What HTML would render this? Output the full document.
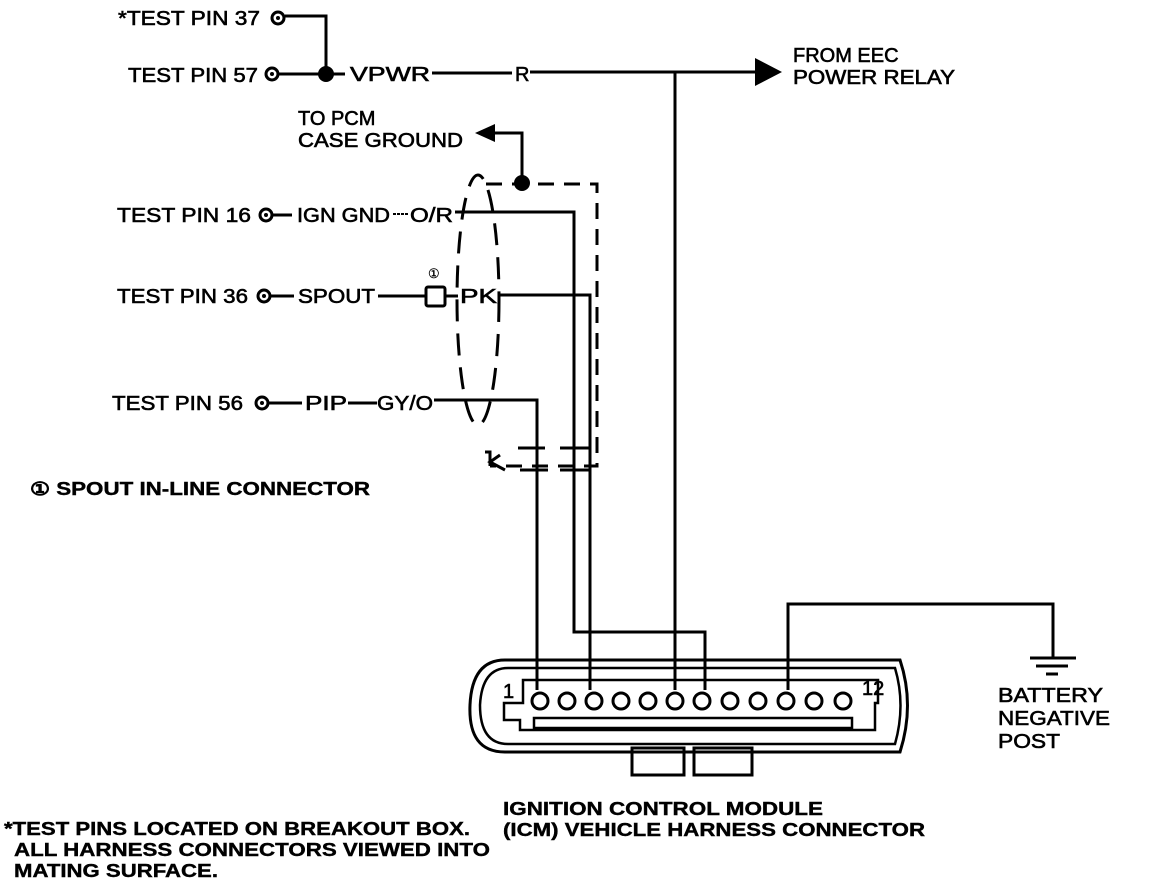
<!DOCTYPE html>
<html><head><meta charset="utf-8"><style>
html,body{margin:0;padding:0;background:#fff;}
svg{display:block;}
text{font-family:"Liberation Sans",sans-serif;font-size:20px;fill:#000;stroke:#000;stroke-width:0.6;}
.b{font-weight:bold;font-size:18px;stroke-width:0.4;}
</style></head><body>
<svg width="1152" height="892" viewBox="0 0 1152 892" xmlns="http://www.w3.org/2000/svg">
<g stroke="#000" stroke-width="3" fill="none">
<circle cx="278" cy="18" r="6"/>
<polyline points="285,16 326,16 326,74"/>
<circle cx="272" cy="74" r="6"/>
<line x1="279" y1="74" x2="345" y2="74"/>
<line x1="432" y1="73" x2="512" y2="73"/>
<line x1="530" y1="72" x2="758" y2="72"/>
<line x1="675" y1="72" x2="675" y2="690"/>
<polyline points="492,133 522,133 522,183"/>
<path d="M486,184 H597 V466 H490" stroke-dasharray="16,10"/>
<path d="M485,452 H490 V466 M500,455 L490,462 L505,470" />
<path d="M518,448 H545 M560,448 H590 M520,470 H548 M560,470 H590" />
<ellipse cx="478" cy="300" rx="21" ry="125" stroke-dasharray="22,12"/>
<circle cx="266" cy="215" r="6"/>
<line x1="273" y1="215" x2="292" y2="215"/>
<line x1="393" y1="214" x2="408" y2="214" stroke-width="2" stroke-dasharray="3,1"/>
<polyline points="455,212 574,212 574,632 705,632 705,690"/>
<circle cx="264" cy="296" r="6"/>
<line x1="271" y1="296" x2="294" y2="296"/>
<line x1="378" y1="296" x2="425" y2="296"/>
<rect x="426" y="287" width="19" height="19" rx="2"/>
<line x1="445" y1="296" x2="458" y2="296"/>
<polyline points="498,295 590,295 590,690"/>
<circle cx="262" cy="403" r="6"/>
<line x1="269" y1="403" x2="302" y2="403"/>
<line x1="348" y1="403" x2="377" y2="403"/>
<polyline points="434,400 537,400 537,690"/>
<polyline points="788,690 788,604 1053,604 1053,658"/>
<line x1="1030" y1="658" x2="1076" y2="658"/>
<line x1="1036" y1="666" x2="1068" y2="666"/>
<line x1="1046" y1="674" x2="1058" y2="674"/>
<path d="M505,660 H900 Q915,705 900,752 H505 Q468,752 470,705 Q472,660 505,660 Z"/>
<path d="M508,668 H895 Q906,705 895,744 H508 Q480,744 480,705 Q482,668 508,668 Z" stroke-width="2.5"/>
<path d="M523,680 H878 V703 H875 V730 H520 V720 H504 V703 H523 Z" stroke-width="2.5"/>
<rect x="534" y="718" width="318" height="10" stroke-width="2.5"/>
<rect x="632" y="748" width="52" height="27"/>
<rect x="694" y="748" width="58" height="27"/>
</g>
<g fill="#fff" stroke="#000" stroke-width="3">
<circle cx="540" cy="701" r="8"/><circle cx="567" cy="701" r="8"/><circle cx="594" cy="701" r="8"/><circle cx="621" cy="701" r="8"/><circle cx="648" cy="701" r="8"/><circle cx="675" cy="701" r="8"/><circle cx="702" cy="701" r="8"/><circle cx="730" cy="701" r="8"/><circle cx="758" cy="701" r="8"/><circle cx="786" cy="701" r="8"/><circle cx="814" cy="701" r="8"/><circle cx="843" cy="701" r="8"/>
</g>
<g fill="#000">
<circle cx="278" cy="18" r="2"/><circle cx="272" cy="74" r="2"/><circle cx="266" cy="215" r="2"/><circle cx="264" cy="296" r="2"/><circle cx="262" cy="403" r="2"/>
<circle cx="326" cy="74" r="8"/>
<circle cx="522" cy="183" r="8"/>
<polygon points="755,58 782,72 755,86"/>
<polygon points="475,133 495,124 495,142"/>
</g>
<g>
<text x="118" y="25" textLength="142" lengthAdjust="spacingAndGlyphs">*TEST PIN 37</text>
<text x="128" y="82" textLength="130" lengthAdjust="spacingAndGlyphs">TEST PIN 57</text>
<text x="350" y="81" textLength="80" lengthAdjust="spacingAndGlyphs">VPWR</text>
<text x="515" y="81">R</text>
<text x="793" y="62">FROM EEC</text>
<text x="793" y="84" textLength="162" lengthAdjust="spacingAndGlyphs">POWER RELAY</text>
<text x="298" y="125">TO PCM</text>
<text x="298" y="147" textLength="165" lengthAdjust="spacingAndGlyphs">CASE GROUND</text>
<text x="117" y="222" textLength="134" lengthAdjust="spacingAndGlyphs">TEST PIN 16</text>
<text x="297" y="222" textLength="93" lengthAdjust="spacingAndGlyphs">IGN GND</text>
<text x="410" y="222" textLength="43" lengthAdjust="spacingAndGlyphs">O/R</text>
<text x="117" y="303" textLength="131" lengthAdjust="spacingAndGlyphs">TEST PIN 36</text>
<text x="298" y="303" textLength="77" lengthAdjust="spacingAndGlyphs">SPOUT</text>
<text x="460" y="303" textLength="37" lengthAdjust="spacingAndGlyphs">PK</text>
<text x="428" y="278" style="font-size:13px;stroke-width:0.3">①</text>
<text x="112" y="410" textLength="131" lengthAdjust="spacingAndGlyphs">TEST PIN 56</text>
<text x="305" y="410" textLength="42" lengthAdjust="spacingAndGlyphs">PIP</text>
<text x="377" y="410" textLength="56" lengthAdjust="spacingAndGlyphs">GY/O</text>
<text x="503" y="698">1</text>
<text x="862" y="695">12</text>
<text x="998" y="702" textLength="105" lengthAdjust="spacingAndGlyphs">BATTERY</text>
<text x="998" y="725" textLength="112" lengthAdjust="spacingAndGlyphs">NEGATIVE</text>
<text x="998" y="748" textLength="62" lengthAdjust="spacingAndGlyphs">POST</text>
<text class="b" x="30" y="495" textLength="340" lengthAdjust="spacingAndGlyphs">① SPOUT IN-LINE CONNECTOR</text>
<text class="b" x="503" y="815" textLength="320" lengthAdjust="spacingAndGlyphs">IGNITION CONTROL MODULE</text>
<text class="b" x="503" y="836" textLength="422" lengthAdjust="spacingAndGlyphs">(ICM) VEHICLE HARNESS CONNECTOR</text>
<text class="b" x="4" y="835" textLength="466" lengthAdjust="spacingAndGlyphs">*TEST PINS LOCATED ON BREAKOUT BOX.</text>
<text class="b" x="14" y="856" textLength="476" lengthAdjust="spacingAndGlyphs">ALL HARNESS CONNECTORS VIEWED INTO</text>
<text class="b" x="14" y="877" textLength="204" lengthAdjust="spacingAndGlyphs">MATING SURFACE.</text>
</g>
</svg>
</body></html>
